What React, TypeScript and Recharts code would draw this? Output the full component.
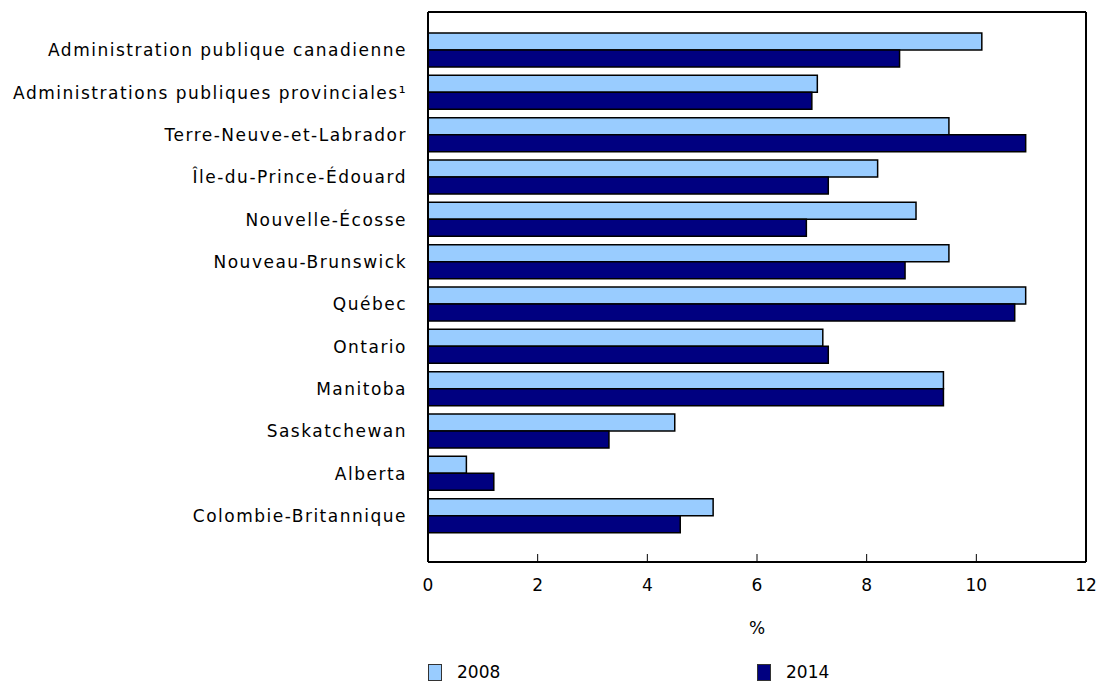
import React from 'react';
import { BarChart, Bar, XAxis, YAxis, Legend, CartesianGrid } from 'recharts';

const categories = [
  'Administration publique canadienne',
  'Administrations publiques provinciales¹',
  'Terre-Neuve-et-Labrador',
  'Île-du-Prince-Édouard',
  'Nouvelle-Écosse',
  'Nouveau-Brunswick',
  'Québec',
  'Ontario',
  'Manitoba',
  'Saskatchewan',
  'Alberta',
  'Colombie-Britannique',
];

const values2008 = [10.1, 7.1, 9.5, 8.2, 8.9, 9.5, 10.9, 7.2, 9.4, 4.5, 0.7, 5.2];
const values2014 = [8.6, 7.0, 10.9, 7.3, 6.9, 8.7, 10.7, 7.3, 9.4, 3.3, 1.2, 4.6];

const xTicks = [0, 2, 4, 6, 8, 10, 12];

const data = categories.map((name, i) => ({
  name,
  y2008: values2008[i],
  y2014: values2014[i],
}));

const FONT = '"DejaVu Sans", Verdana, sans-serif';

const LegendBox = ({ payload }: any) => (
  <div style={{ display: 'flex', fontFamily: FONT, fontSize: 17, color: '#000' }}>
    {(payload || []).map((p: any) => (
      <div key={p.value} style={{ display: 'flex', alignItems: 'center', width: 329 }}>
        <span
          style={{
            display: 'inline-block',
            width: 12,
            height: 15,
            background: p.color,
            border: '1px solid #333',
            marginRight: 15,
          }}
        />
        <span>{p.value}</span>
      </div>
    ))}
  </div>
);

// frame of the plot: top edge and right edge, taken from the chart's own offset
const frameTop = ({ offset }: any) => [offset.top];
const frameRight = ({ offset }: any) => [offset.left + offset.width];

export default function App() {
  return (
    <div style={{ position: 'absolute', left: 0, top: 0, background: '#fff' }}>
      <BarChart
        width={1100}
        height={682}
        data={data}
        layout="vertical"
        barGap={0}
        margin={{ top: 12, right: 14, left: 0, bottom: 18 }}
      >
        <CartesianGrid
          stroke="#000"
          strokeWidth={2}
          horizontalCoordinatesGenerator={frameTop}
          verticalCoordinatesGenerator={frameRight}
        />
        <XAxis
          type="number"
          domain={[0, 12]}
          ticks={xTicks}
          height={80}
          axisLine={{ stroke: '#000', strokeWidth: 2 }}
          tickLine={{ stroke: '#000' }}
          tickSize={-8}
          tickMargin={25}
          tick={{ fill: '#000', fontFamily: FONT, fontSize: 17 }}
          label={{ value: '%', position: 'insideBottom', offset: 8, fill: '#000', fontFamily: FONT, fontSize: 17 }}
        />
        <YAxis
          type="category"
          dataKey="name"
          width={428}
          padding={{ top: 17, bottom: 25 }}
          axisLine={{ stroke: '#000', strokeWidth: 2 }}
          tickLine={false}
          tickSize={6}
          tickMargin={15}
          interval={0}
          tick={{ fill: '#000', fontFamily: FONT, fontSize: 17, letterSpacing: 1.5 }}
        />
        <Legend
          verticalAlign="bottom"
          content={<LegendBox />}
          wrapperStyle={{ position: 'absolute', left: 428, top: 662, width: 660, height: 22 }}
        />
        <Bar dataKey="y2008" name="2008" fill="#99CCFF" stroke="#000" strokeWidth={1.5} barSize={17} isAnimationActive={false} />
        <Bar dataKey="y2014" name="2014" fill="#000080" stroke="#000" strokeWidth={1.5} barSize={17} isAnimationActive={false} />
      </BarChart>
    </div>
  );
}
